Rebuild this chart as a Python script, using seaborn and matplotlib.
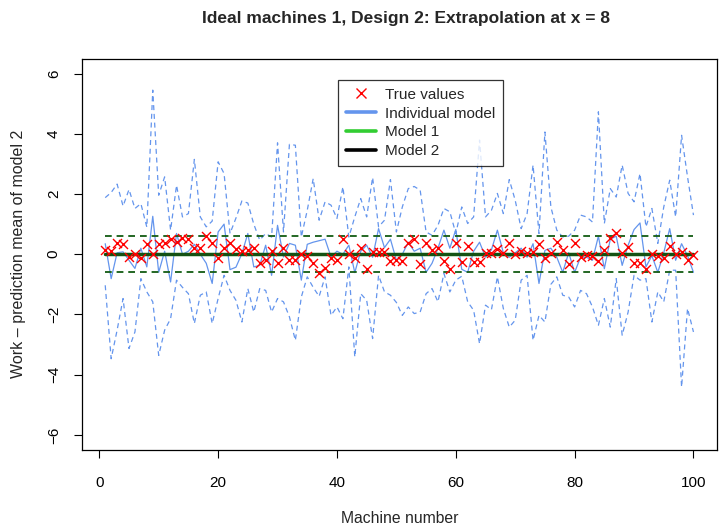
import numpy as np
import pandas as pd
import matplotlib
matplotlib.use("Agg")
import matplotlib.pyplot as plt
from matplotlib.lines import Line2D
import seaborn as sns

machines = list(range(1, 101))

true_values = [
    0.13, 0.11, 0.38, 0.33, -0.09, 0.00, -0.11, 0.33, 0.02, 0.35,
    0.38, 0.49, 0.41, 0.55, 0.52, 0.22, 0.22, 0.61, 0.36, -0.13,
    0.22, 0.36, 0.19, 0.11, 0.15, 0.22, -0.29, -0.18, 0.11, -0.29,
    0.22, -0.18, -0.18, 0.02, -0.07, -0.29, -0.62, -0.44, -0.14, -0.18,
    0.49, 0.02, -0.11, 0.22, -0.48, 0.08, 0.08, 0.08, -0.22, -0.18,
    -0.22, 0.38, 0.52, -0.33, 0.38, 0.13, 0.22, -0.22, -0.48, 0.36,
    -0.26, 0.27, -0.26, -0.26, 0.04, 0.04, 0.19, 0.04, 0.38, 0.00,
    0.11, 0.04, 0.08, 0.33, -0.11, 0.04, 0.41, 0.15, -0.33, 0.38,
    -0.09, -0.04, -0.07, -0.22, 0.15, 0.55, 0.69, 0.04, 0.24, -0.29,
    -0.29, -0.48, 0.02, -0.07, -0.11, 0.27, 0.00, 0.08, -0.18, -0.04,
]

individual_mean = [
    0.35, -0.81, 0.05, 0.08, -0.20, -0.47, 0.20, -0.42, 1.26, -0.60,
    0.10, -0.92, 0.69, 0.00, 0.10, 0.33, 0.00, -0.30, -0.97, 0.74,
    1.00, -0.51, -0.43, 0.02, 0.69, -0.42, -0.37, 0.30, -0.70, 0.96,
    -0.09, 0.36, 0.30, -0.86, 0.33, 0.40, 0.45, 0.50, -0.09, 0.10,
    0.00, 0.30, -0.61, 0.10, 0.30, -0.10, 0.85, 0.22, 0.50, -0.20,
    0.00, 0.40, 0.10, 0.20, -0.60, -0.30, 0.20, 0.80, 0.20, 0.82,
    -0.50, -0.60, 0.10, 0.40, -0.10, 0.15, 0.80, 0.05, -0.10, 0.05,
    0.20, -0.10, 0.35, -0.97, 0.13, 0.20, -0.10, -0.60, 0.05, -0.60,
    -0.10, -0.10, -0.20, 0.60, -0.48, 0.50, 0.60, -0.37, 0.30, 0.82,
    1.04, -0.42, -0.05, -0.60, 0.05, 0.85, -0.20, 0.35, -0.05, -0.60,
]

individual_upper = [
    1.88, 2.05, 2.33, 1.60, 2.15, 1.52, 1.68, 0.90, 5.45, 1.96,
    2.57, 0.80, 2.29, 1.24, 1.35, 3.15, 1.24, 0.91, 1.10, 3.07,
    2.68, 0.69, 1.20, 1.77, 1.70, 1.00, 0.47, 0.69, 0.57, 3.70,
    0.74, 3.65, 3.62, 0.57, 1.46, 2.51, 1.13, 1.74, 1.63, 1.19,
    2.24, 0.57, 1.24, 1.85, 1.24, 2.55, 0.91, 1.13, 2.48, 0.74,
    1.57, 2.18, 2.25, 2.13, 0.74, 0.63, 0.96, 1.52, 1.41, 0.69,
    1.57, 1.02, 1.24, 3.79, 1.24, 1.46, 2.02, 1.35, 2.48, 1.79,
    0.85, 1.35, 2.96, 0.69, 4.06, 1.57, 0.80, 0.57, 0.60, 0.80,
    1.30, 1.24, 1.07, 4.73, 1.02, 2.18, 1.90, 2.96, 2.02, 1.74,
    2.68, 0.91, 1.52, 0.36, 1.57, 2.46, 1.24, 3.95, 2.57, 1.30,
]

individual_lower = [
    -1.03, -3.47, -2.52, -1.47, -3.13, -2.58, -0.81, -1.25, -1.58, -3.36,
    -2.52, -2.14, -0.86, -1.10, -1.31, -2.30, -1.36, -1.25, -2.30, -1.47,
    -0.70, -1.20, -1.53, -2.25, -1.14, -1.92, -1.14, -1.20, -1.92, -1.47,
    -1.58, -2.08, -2.86, -1.42, -0.75, -1.10, -1.40, -0.75, -2.03, -1.75,
    -2.14, -0.42, -3.41, -1.31, -1.53, -2.80, -0.70, -1.25, -1.36, -1.60,
    -2.03, -1.75, -1.97, -1.92, -1.31, -1.14, -1.58, -0.64, -1.25, -0.86,
    -0.73, -1.58, -1.86, -2.97, -1.69, -1.84, -0.75, -1.80, -2.42, -2.19,
    -0.86, -0.70, -2.86, -2.03, -2.25, -1.00, -0.75, -1.36, -1.42, -1.75,
    -1.20, -1.31, -1.75, -2.36, -1.47, -2.42, -0.81, -2.69, -1.92, -0.70,
    -0.86, -0.81, -2.25, -1.25, -1.58, -0.53, -0.53, -4.41, -1.80, -2.58,
]

model_mean = 0.0
model_halfwidth = 0.6

title = "Ideal machines 1, Design 2: Extrapolation at x = 8"
xlabel = "Machine number"
ylabel = "Work \u2013 prediction mean of model 2"
legend_labels = ["True values", "Individual model", "Model 1", "Model 2"]
xticks = [0, 20, 40, 60, 80, 100]
yticks = [-6, -4, -2, 0, 2, 4, 6]

sns.set_theme(style="white")
plt.rcParams['font.family'] = ['Liberation Sans', 'DejaVu Sans']

df = pd.DataFrame({
    "machine": machines,
    "true": true_values,
    "mean": individual_mean,
    "upper": individual_upper,
    "lower": individual_lower,
    "m_mean": [model_mean] * len(machines),
    "m_up": [model_mean + model_halfwidth] * len(machines),
    "m_lo": [model_mean - model_halfwidth] * len(machines),
})

fig = plt.figure(figsize=(7.19, 5.26), dpi=100)
ax = fig.add_axes([81.7 / 719, 1 - 450 / 526, (717 - 81.7) / 719, (450 - 58.5) / 526])

blue = "#6495ED"
sns.lineplot(data=df, x="machine", y="upper", ax=ax, color=blue, linewidth=0.9,
             linestyle=(0, (4, 3)), sort=False)
sns.lineplot(data=df, x="machine", y="lower", ax=ax, color=blue, linewidth=0.9,
             linestyle=(0, (4, 3)), sort=False)
sns.lineplot(data=df, x="machine", y="mean", ax=ax, color=blue, linewidth=0.9, sort=False)

# Model 1 (green) and Model 2 (black) coincide
for col in ("m_up", "m_lo"):
    sns.lineplot(data=df, x="machine", y=col, ax=ax, color="#32CD32", linewidth=1.2, linestyle=(0, (4, 3)))
    sns.lineplot(data=df, x="machine", y=col, ax=ax, color="black", linewidth=1.2, linestyle=(0, (4, 3)), alpha=0.6)
sns.lineplot(data=df, x="machine", y="m_mean", ax=ax, color="#32CD32", linewidth=2.4)
sns.lineplot(data=df, x="machine", y="m_mean", ax=ax, color="black", linewidth=2.4, alpha=0.6)

sns.scatterplot(data=df, x="machine", y="true", ax=ax, marker="x", color="red",
                s=42, linewidth=1.0, zorder=5)

ax.set_xlim(-2.96, 103.96)
ax.set_ylim(-6.5, 6.5)
ax.set_xticks(xticks)
ax.set_yticks(yticks)
ax.set_yticklabels([str(t) if t >= 0 else "\u2212" + str(-t) for t in yticks],
                   rotation=90, va="center")
ax.set_xticklabels([str(t) for t in xticks])
ax.tick_params(axis="both", which="both", direction="out", length=6, width=0.8,
               colors="black", labelsize=11, bottom=True, left=True)
ax.tick_params(axis="x", pad=13)
ax.tick_params(axis="y", pad=9)
for s in ax.spines.values():
    s.set_visible(True)
    s.set_color("black")
    s.set_linewidth(0.9)

ax.set_xlabel(xlabel, fontsize=11.3, labelpad=15)
ax.set_ylabel(ylabel, fontsize=11.5, labelpad=15)
fig.text(406 / 719, 1 - 19 / 526, title, fontsize=12.5, fontweight="bold",
         ha="center", va="center")

handles = [
    Line2D([], [], linestyle="none", marker="x", color="red", markersize=6.5, markeredgewidth=1.0),
    Line2D([], [], color=blue, linewidth=2.6),
    Line2D([], [], color="#32CD32", linewidth=2.6),
    Line2D([], [], color="black", linewidth=2.6),
]
leg = ax.legend(handles, legend_labels, loc="upper left",
                bbox_to_anchor=((338 - 81.7) / (717 - 81.7), (450 - 80) / (450 - 58.5)),
                frameon=True, fancybox=False, edgecolor="black", fontsize=11,
                labelspacing=0.32, handlelength=2.0, handletextpad=0.6,
                borderpad=0.5, borderaxespad=0)
leg.get_frame().set_linewidth(0.9)

fig.savefig("out.png", dpi=100)
